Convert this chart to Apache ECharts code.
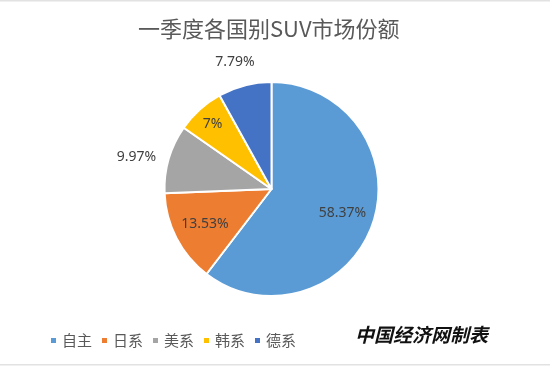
<!DOCTYPE html>
<html><head><meta charset="utf-8">
<script src="https://cdn.jsdelivr.net/npm/echarts@6/dist/echarts.min.js"></script>
<style>html,body{margin:0;padding:0;background:#fff}#c{width:550px;height:366px}</style>
</head><body><div id="c"></div>
<script>
var categories = ['自主', '日系', '美系', '韩系', '德系'];
var shares = [58.37, 13.53, 9.97, 7, 7.79];
var colors = ['#5B9BD5', '#ED7D31', '#A5A5A5', '#FFC000', '#4472C4'];
var titleText = '一季度各国别SUV市场份额';
var sourceText = '中国经济网制表';

var CX = 271.5, CY = 189, R = 107;
var labelFont = {fontFamily: 'Noto Sans', fontSize: 14, color: '#404040'};

function buildData(labelFor) {
  return categories.map(function (n, i) {
    var d = {name: n, value: shares[i], itemStyle: {color: colors[i]}};
    d.label = labelFor(i);
    return d;
  });
}

var outsideCfg = {
  2: {len: 8, len2: 0},
  4: {len: 24, len2: -21}
};

var visible = buildData(function (i) {
  if (outsideCfg[i]) return {show: true, position: 'outside'};
  return {show: false};
}).map(function (d, i) {
  if (outsideCfg[i]) d.labelLine = {show: false, length: outsideCfg[i].len, length2: outsideCfg[i].len2};
  return d;
});

function overlay(showIdx) {
  return categories.map(function (n, i) {
    return {name: n, value: shares[i], itemStyle: {color: 'transparent', borderWidth: 0},
      label: {show: showIdx.indexOf(i) >= 0, position: 'inside'}};
  });
}

var chart = echarts.init(document.getElementById('c'), null, {renderer: 'canvas'});
chart.setOption({
  animation: false,
  backgroundColor: '#fff',
  title: {
    text: titleText, left: 133, top: 13,
    textStyle: {fontFamily: 'Noto Sans CJK SC', fontSize: 22, fontWeight: 'normal', color: '#595959'}
  },
  legend: {
    data: categories, left: 44, top: 328, itemWidth: 7, itemHeight: 7, itemGap: 8,
    icon: 'rect',
    textStyle: {fontFamily: 'Noto Sans CJK SC', fontSize: 15, color: '#595959'}
  },
  graphic: [
    {type: 'text', left: 355, top: 325, style: {text: sourceText, fontFamily: 'Noto Sans CJK SC', fontSize: 19, fontWeight: 'bold', fontStyle: 'italic', fill: '#111'}},
    {type: 'rect', shape: {x: 0, y: 0, width: 550, height: 1.5}, style: {fill: '#e2e2e2'}, silent: true},
    {type: 'rect', shape: {x: 0, y: 364, width: 550, height: 1.5}, style: {fill: '#e2e2e2'}, silent: true}
  ],
  series: [
    {
      type: 'pie', center: [CX, CY], radius: [0, R], startAngle: 90, clockwise: true,
      avoidLabelOverlap: false,
      itemStyle: {borderColor: '#fff', borderWidth: 2},
      label: Object.assign({formatter: '{c}%'}, labelFont),
      labelLine: {show: false},
      emphasis: {disabled: true},
      data: visible
    },
    {
      type: 'pie', center: [CX, CY], radius: [37, R], startAngle: 90, clockwise: true,
      silent: true, legendHoverLink: false, avoidLabelOverlap: false,
      label: Object.assign({formatter: '{c}%'}, labelFont),
      labelLine: {show: false},
      emphasis: {disabled: true},
      data: overlay([0, 1])
    },
    {
      type: 'pie', center: [CX, CY], radius: [63, R], startAngle: 90, clockwise: true,
      silent: true, legendHoverLink: false, avoidLabelOverlap: false,
      label: Object.assign({formatter: '{c}%'}, labelFont),
      labelLine: {show: false},
      emphasis: {disabled: true},
      data: overlay([3])
    }
  ]
});
</script></body></html>
